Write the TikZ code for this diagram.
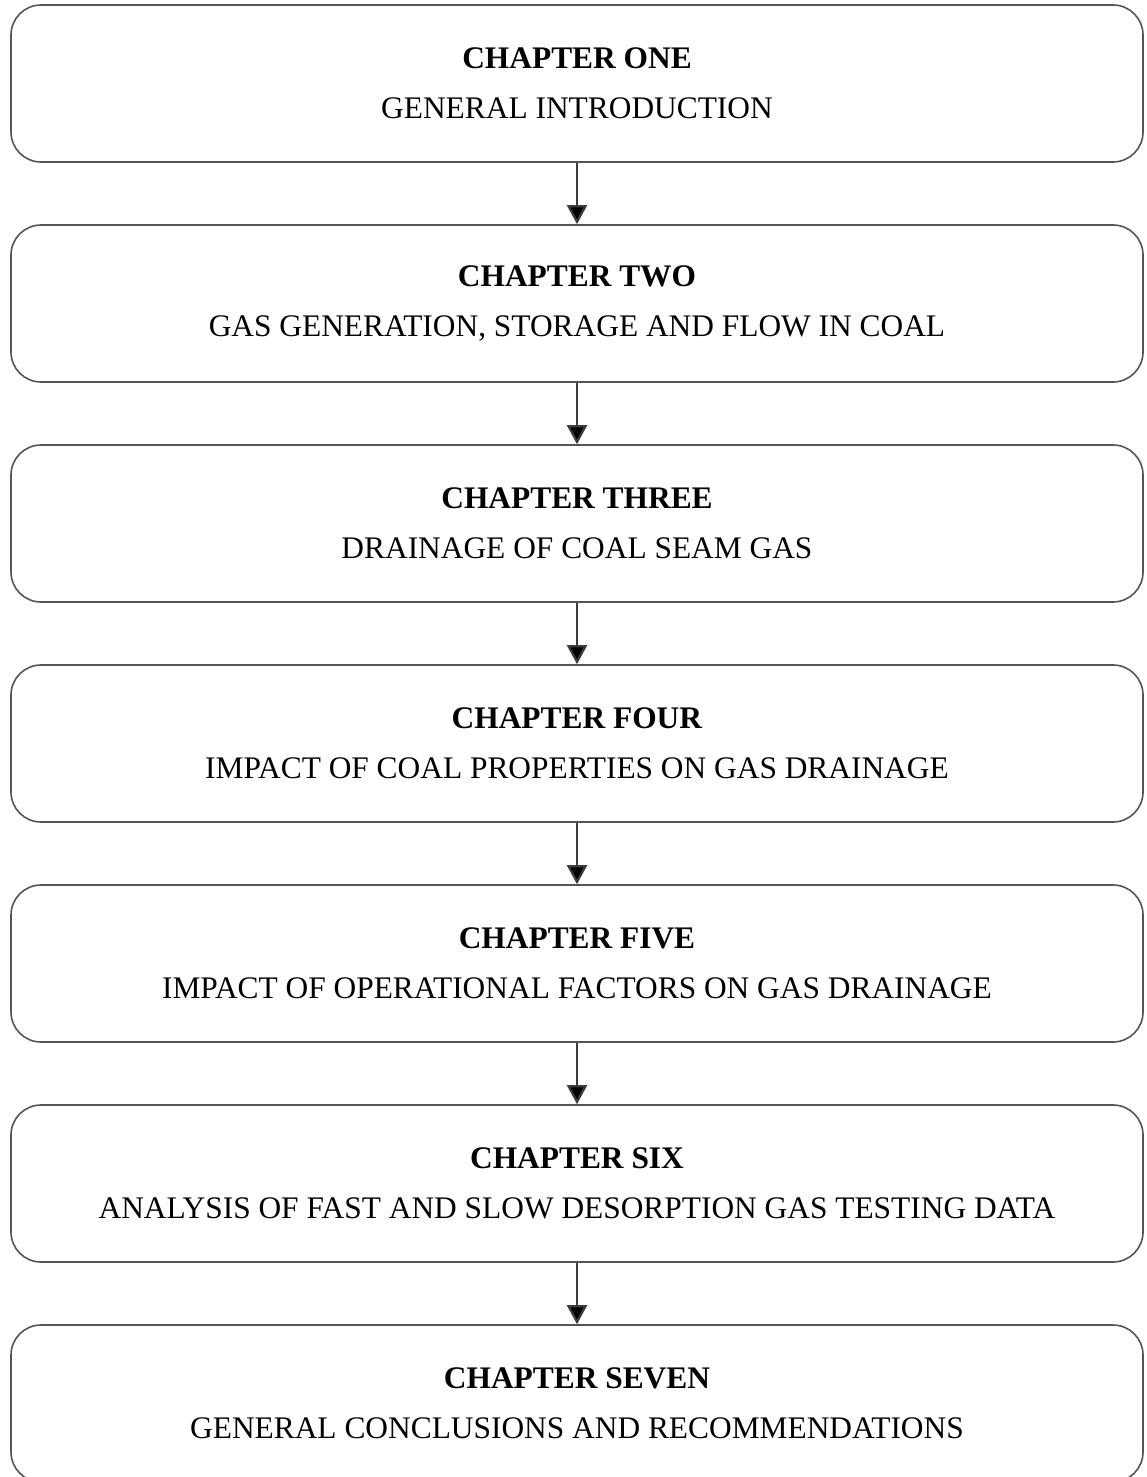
\documentclass[tikz,border=0pt]{standalone}
\usepackage{fontspec}
\setmainfont{Liberation Serif}
\usetikzlibrary{arrows.meta}

\tikzset{
    chapbox/.style={draw=myline, line width=0.8pt, rounded corners=15pt,
        minimum width=566pt, minimum height=78.5pt, align=center,
        font=\fontsize{15.7}{25}\selectfont},
    chaparrow/.style={myarrow, line width=1.1pt, -{Triangle[width=10pt,length=9.5pt,fill=black]}}
}

\begin{document}
\begin{tikzpicture}[x=0.5pt, y=-0.5pt]
    \definecolor{myline}{RGB}{85,85,85}
    \definecolor{myarrow}{RGB}{60,60,60}

    \useasboundingbox (0,0) rectangle (1146,1477);
    \clip (0,0) rectangle (1146,1477);

    \node[chapbox] (one)   at (577,83.5)   {\textbf{CHAPTER ONE}\\GENERAL INTRODUCTION};
    \node[chapbox] (two)   at (577,303.5)  {\textbf{CHAPTER TWO}\\GAS GENERATION, STORAGE AND FLOW IN COAL};
    \node[chapbox] (three) at (577,523.5)  {\textbf{CHAPTER THREE}\\DRAINAGE OF COAL SEAM GAS};
    \node[chapbox] (four)  at (577,743.5)  {\textbf{CHAPTER FOUR}\\IMPACT OF COAL PROPERTIES ON GAS DRAINAGE};
    \node[chapbox] (five)  at (577,963.5)  {\textbf{CHAPTER FIVE}\\IMPACT OF OPERATIONAL FACTORS ON GAS DRAINAGE};
    \node[chapbox] (six)   at (577,1183.5) {\textbf{CHAPTER SIX}\\ANALYSIS OF FAST AND SLOW DESORPTION GAS TESTING DATA};
    \node[chapbox] (seven) at (577,1403.5) {\textbf{CHAPTER SEVEN}\\GENERAL CONCLUSIONS AND RECOMMENDATIONS};

    \draw[chaparrow] (one) -- (two);
    \draw[chaparrow] (two) -- (three);
    \draw[chaparrow] (three) -- (four);
    \draw[chaparrow] (four) -- (five);
    \draw[chaparrow] (five) -- (six);
    \draw[chaparrow] (six) -- (seven);
\end{tikzpicture}
\end{document}
